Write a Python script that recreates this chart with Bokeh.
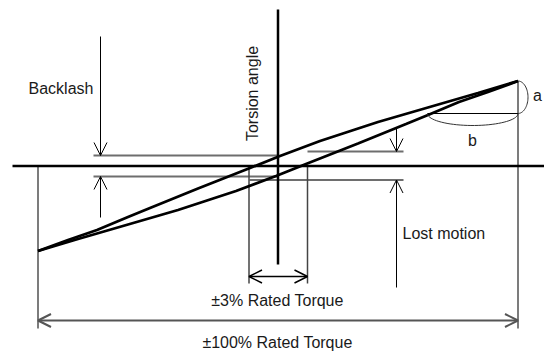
import numpy as np
from bokeh.plotting import figure
from bokeh.models import Range1d, Arrow, OpenHead, Label, ColumnDataSource
from bokeh.embed import file_html
from bokeh.resources import INLINE

# ---- data (diagram coordinates: torque offset, torsion angle offset) ----
torque_upper = [-240, -210, -181, -150, -128, -80, -28, 2, 42, 100, 162, 200, 240]
angle_upper = [-85, -74, -64, -51, -42, -22.5, -2, 10, 25, 44, 62, 73, 85]
torque_lower = [-240, -200, -162, -100, -42, -2, 28, 80, 128, 150, 181, 210, 240]
angle_lower = [-85, -73, -62, -44, -25, -10, 2, 22.5, 42, 51, 64, 74, 85]

axis_torque = [-265.5, 266.5]
axis_angle = [156.5, -98.5]

backlash_levels = [10.5, -10.5]
backlash_line_x = [-184.5, 0.5]
backlash_arrow_x = -177.5
backlash_arrow_start = [129.5, -51.5]

lost_levels = [14.5, -14.0]
lost_line_x_start = [29.5, -28.5]
lost_line_x_end = 125.5
lost_arrow_x = 118.5
lost_arrow_start = [37.5, -121.5]

rated3_x = [-29.0, 29.5]
rated3_top = -0.5
rated3_bottom = -117.5
rated3_arrow_y = -110.5

rated100_x = [-240.0, 240.0]
rated100_top = [0.0, 85.0]
rated100_bottom = -162.5
rated100_arrow_y = -154.5

b_level = 52.5
b_start = 149.5

labels = [
    ("Backlash", -249.5, 77.5, "left", 0),
    ("Torsion angle", -25.5, 72.5, "center", 90),
    ("a", 259.5, 70.5, "center", 0),
    ("b", 194.5, 25.5, "center", 0),
    ("Lost motion", 124.5, -67.5, "left", 0),
    ("\u00b13% Rated Torque", -0.5, -134.5, "center", 0),
    ("\u00b1100% Rated Torque", -0.5, -176.5, "center", 0),
]

FONT = "Liberation Sans"
FSIZE = "16px"
GRAY = "#6e6e6e"

p = figure(width=544, height=354, output_backend="svg", toolbar_location=None,
           x_range=Range1d(-277.5, 266.5), y_range=Range1d(-188.5, 165.5),
           x_axis_location=None, y_axis_location=None, min_border=0)
p.grid.visible = False
p.outline_line_color = None
p.background_fill_color = "white"
p.border_fill_color = "white"

# gray reference lines
p.segment(x0=[backlash_line_x[0]] * 2, y0=backlash_levels,
          x1=[backlash_line_x[1]] * 2, y1=backlash_levels,
          line_color=GRAY, line_width=2)
p.segment(x0=lost_line_x_start, y0=lost_levels,
          x1=[lost_line_x_end] * 2, y1=lost_levels,
          line_color=GRAY, line_width=2)
p.segment(x0=rated3_x, y0=[rated3_top] * 2, x1=rated3_x, y1=[rated3_bottom] * 2,
          line_color="#444444", line_width=1.5)
p.segment(x0=rated100_x, y0=rated100_top, x1=rated100_x, y1=[rated100_bottom] * 2,
          line_color=GRAY, line_width=1.8)

# main axes
p.segment(x0=[axis_torque[0]], y0=[0], x1=[axis_torque[1]], y1=[0],
          line_color="black", line_width=2.5)
p.segment(x0=[0], y0=[axis_angle[0]], x1=[0], y1=[axis_angle[1]],
          line_color="black", line_width=2.5)

# hysteresis curve
p.line(torque_upper, angle_upper, line_color="black", line_width=2.8)
p.line(torque_lower, angle_lower, line_color="black", line_width=2.8)

# arrows
def add_arrow(xs, ys, xe, ye, color="black", lw=1, both=False, size=13):
    src = ColumnDataSource(dict(xs=[xs], ys=[ys], xe=[xe], ye=[ye]))
    kw = dict(end=OpenHead(size=size, line_width=lw, line_color=color),
              x_start="xs", y_start="ys", x_end="xe", y_end="ye",
              source=src, line_color=color, line_width=lw)
    if both:
        kw["start"] = OpenHead(size=size, line_width=lw, line_color=color)
    p.add_layout(Arrow(**kw))

add_arrow(backlash_arrow_x, backlash_arrow_start[0], backlash_arrow_x, backlash_levels[0])
add_arrow(backlash_arrow_x, backlash_arrow_start[1], backlash_arrow_x, backlash_levels[1])
add_arrow(lost_arrow_x, lost_arrow_start[0], lost_arrow_x, lost_levels[0])
add_arrow(lost_arrow_x, lost_arrow_start[1], lost_arrow_x, lost_levels[1])
add_arrow(rated3_x[0], rated3_arrow_y, rated3_x[1], rated3_arrow_y, lw=1.5, both=True)
add_arrow(rated100_x[0], rated100_arrow_y, rated100_x[1], rated100_arrow_y,
          color="#555555", lw=2, both=True)

# angle "a" and "b" markers
end_x, end_y = torque_upper[-1], angle_upper[-1]
t = np.linspace(-np.pi / 2, np.pi / 2, 40)
cy = (end_y + b_level) / 2
ry = (end_y - b_level) / 2
p.line(end_x + 10 * np.cos(t), cy + ry * np.sin(t), line_color="#333333", line_width=1)
p.segment(x0=[b_start], y0=[b_level], x1=[end_x], y1=[b_level], line_color="black", line_width=1)
t2 = np.linspace(np.pi, 2 * np.pi, 40)
cx = (b_start + end_x) / 2
rx = (end_x - b_start) / 2
p.line(cx + rx * np.cos(t2), b_level + 12 * np.sin(t2), line_color="#333333", line_width=1)

for txt, x, y, align, ang in labels:
    p.add_layout(Label(x=x, y=y, text=txt, text_align=align, text_baseline="middle",
                       angle=ang, angle_units="deg", text_font=FONT,
                       text_font_size=FSIZE, text_color="#1a1a1a"))

open("out.html", "w").write(file_html(p, INLINE))
